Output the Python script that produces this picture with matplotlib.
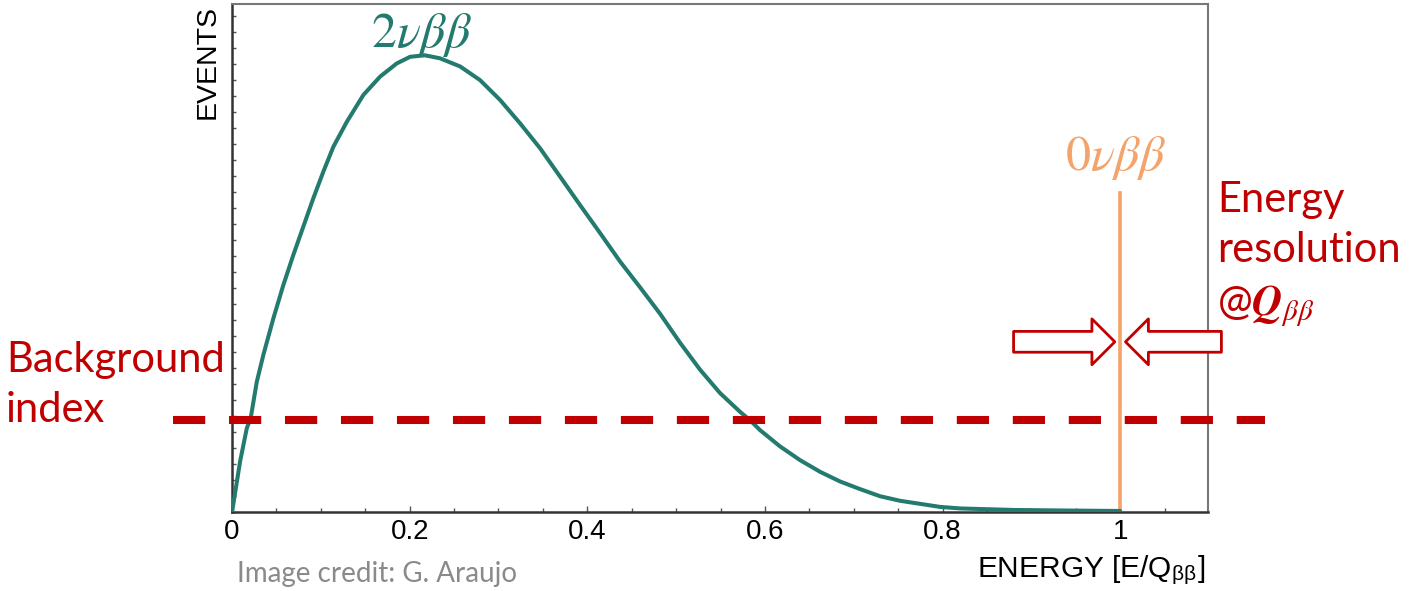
import numpy as np
import matplotlib
matplotlib.use("Agg")
import matplotlib.pyplot as plt

plt.rcParams['mathtext.fontset'] = 'stix'

# 2nu-beta-beta spectrum, energy in units of Q_bb
energy = [0.0, 0.009, 0.0166, 0.021, 0.0278, 0.0352, 0.0465, 0.0578, 0.069, 0.0803,
          0.0916, 0.1028, 0.1141, 0.1292, 0.1479, 0.1667, 0.1855, 0.2005, 0.2117,
          0.217, 0.2342, 0.2568, 0.2793, 0.3018, 0.3243, 0.3468, 0.3694, 0.3919,
          0.4144, 0.4369, 0.4595, 0.482, 0.5045, 0.527, 0.5495, 0.5721, 0.583,
          0.5946, 0.6171, 0.6396, 0.6622, 0.6847, 0.7072, 0.7297, 0.7523, 0.7748,
          0.7973, 0.8198, 0.88, 0.932, 1.0]
events = [0.0, 0.099, 0.165, 0.185, 0.256, 0.309, 0.381, 0.447, 0.506, 0.562,
          0.618, 0.670, 0.719, 0.768, 0.821, 0.857, 0.883, 0.896, 0.898,
          0.899, 0.893, 0.877, 0.850, 0.811, 0.765, 0.716, 0.660, 0.604,
          0.549, 0.493, 0.442, 0.390, 0.333, 0.280, 0.234, 0.197, 0.181,
          0.161, 0.129, 0.102, 0.079, 0.060, 0.045, 0.031, 0.022, 0.016,
          0.010, 0.007, 0.004, 0.003, 0.002]

background_level = 0.181
peak_energy = 1.0
peak_height = 0.628
xticks = [0, 0.2, 0.4, 0.6, 0.8, 1]
xticklabels = ['0', '0.2', '0.4', '0.6', '0.8', '1']

teal = '#237a6e'
orange = '#f4a36b'
red = '#c00000'

fig = plt.figure(figsize=(14.09, 5.91), dpi=100)
ax = fig.add_axes([0.1647, 0.1337, 0.6927, 0.8596])

ax.plot(energy, events, color=teal, lw=2.9, solid_capstyle='round',
        solid_joinstyle='round', zorder=3)
ax.plot([peak_energy, peak_energy], [0, peak_height], color=orange, lw=2.6, zorder=2)

# background level runs past both sides of the frame
ax.plot([-0.066, 1.163], [background_level, background_level], color=red, lw=5.8,
        dashes=(4, 2.95), dash_capstyle='butt', clip_on=False, zorder=4)

ax.set_xlim(0, 1.099)
ax.set_ylim(0, 1)
ax.set_xticks(xticks)
ax.set_xticklabels(xticklabels, fontsize=20, family='Liberation Sans')
ax.set_xticks(np.arange(0, 1.1, 0.05), minor=True)
ax.set_yticks(np.arange(0, 1, 0.0315))
ax.set_yticklabels([])
ax.tick_params(axis='both', which='both', direction='in', length=3, width=1, color='#555555')
ax.tick_params(axis='x', which='major', pad=5, length=4)

for side in ['left', 'bottom']:
    ax.spines[side].set_color('#333333')
    ax.spines[side].set_linewidth(1.8)
for side in ['top', 'right']:
    ax.spines[side].set_color('#777777')
    ax.spines[side].set_linewidth(1.5)

ax.text(0.214, 0.939, r'$2\nu\beta\beta$', color=teal, fontsize=36, ha='center', va='center')
ax.text(0.995, 0.697, r'$0\nu\beta\beta$', color=orange, fontsize=36, ha='center', va='center')

# arrows squeezing the peak
arrow = 'simple,head_length=1.65,head_width=3.3,tail_width=1.5'
ax.annotate('', xy=(0.994, 0.335), xytext=(0.880, 0.335), annotation_clip=False,
            arrowprops=dict(arrowstyle=arrow, fc='white', ec=red, lw=2,
                            shrinkA=0, shrinkB=0, mutation_scale=10))
ax.annotate('', xy=(1.006, 0.335), xytext=(1.114, 0.335), annotation_clip=False,
            arrowprops=dict(arrowstyle=arrow, fc='white', ec=red, lw=2,
                            shrinkA=0, shrinkB=0, mutation_scale=10))

fig.text(208 / 1409, 1 - 5 / 591, 'EVENTS', rotation=90, ha='center', va='top',
         fontsize=20.5, family='Liberation Sans')
fig.text(1205 / 1409, 1 - 570 / 591, r'ENERGY [E/Q$_{\mathregular{ββ}}$]', ha='right',
         va='center', fontsize=21.5, family='Liberation Sans')
fig.text(237 / 1409, 1 - 574 / 591, 'Image credit: G. Araujo', ha='left', va='center',
         fontsize=20, family='Lato', color='#8a8a8a')

fig.text(6 / 1409, 1 - 360 / 591, 'Background', ha='left', va='center',
         fontsize=30, family='Lato', color=red)
fig.text(6 / 1409, 1 - 410 / 591, 'index', ha='left', va='center',
         fontsize=30, family='Lato', color=red)

fig.text(1217 / 1409, 1 - 200 / 591, 'Energy', ha='left', va='center',
         fontsize=30, family='Lato', color=red)
fig.text(1217 / 1409, 1 - 250 / 591, 'resolution', ha='left', va='center',
         fontsize=30, family='Lato', color=red)
fig.text(1217 / 1409, 1 - 306 / 591, r'@$\mathbfit{Q}_{\beta\beta}$', ha='left', va='center',
         fontsize=30, family='Lato', color=red)

fig.savefig('out.png', dpi=100)
